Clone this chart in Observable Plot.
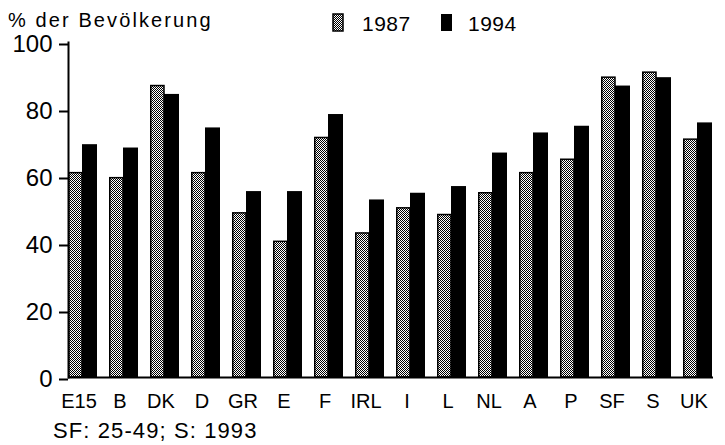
<!DOCTYPE html>
<html>
<head>
<meta charset="utf-8">
<script src="https://cdn.jsdelivr.net/npm/d3@7"></script>
<script src="https://cdn.jsdelivr.net/npm/@observablehq/plot@0.6"></script>
<style>
  html, body { margin: 0; padding: 0; background: #fff; }
  #wrap { position: relative; width: 725px; height: 445px; font-family: "Liberation Sans", Arial, Helvetica, sans-serif; color: #000; }
  .t { position: absolute; white-space: nowrap; }
  #chart { position: absolute; left: 0; top: 0; }
</style>
</head>
<body>
<div id="wrap">
  <div id="chart"></div>
  <div class="t" style="left:8px; top:10px; font-size:20px; line-height:20px; letter-spacing:2.1px;">% der Bevölkerung</div>
  <svg class="t" style="left:332px; top:13px;" width="14" height="20">
    <defs>
      <pattern id="stipL" width="2" height="2" patternUnits="userSpaceOnUse">
        <rect width="2" height="2" fill="#fff"/>
        <rect width="1" height="1" fill="#000"/>
        <rect x="1" y="1" width="1" height="1" fill="#000"/>
      </pattern>
    </defs>
    <rect x="1" y="1" width="10" height="17" fill="url(#stipL)" stroke="#000" stroke-width="1.5"/>
  </svg>
  <div class="t" id="leg1" style="left:362px; top:13px; font-size:21px; line-height:21px; letter-spacing:0.5px;"></div>
  <svg class="t" style="left:440px; top:13px;" width="14" height="20">
    <rect x="1" y="1" width="11" height="17" fill="#000"/>
  </svg>
  <div class="t" id="leg2" style="left:468px; top:13px; font-size:21px; line-height:21px; letter-spacing:0.5px;"></div>
  <div class="t" id="cap" style="left:53px; top:420px; font-size:22px; line-height:22px; letter-spacing:1.1px;"></div>
</div>
<script>
const countries = ["E15","B","DK","D","GR","E","F","IRL","I","L","NL","A","P","SF","S","UK"];
const years = ["1987","1994"];
const v1987 = [61, 59.5, 87, 61, 49, 40.5, 71.5, 43, 50.5, 48.5, 55, 61, 65, 89.5, 91, 71];
const v1994 = [69.5, 68.5, 84.5, 74.5, 55.5, 55.5, 78.5, 53, 55, 57, 67, 73, 75, 87, 89.5, 76];
const yTicks = [0, 20, 40, 60, 80, 100];
const caption = "SF: 25-49; S: 1993";

document.getElementById("leg1").textContent = years[0];
document.getElementById("leg2").textContent = years[1];
document.getElementById("cap").textContent = caption;

const d87 = countries.map((c, i) => ({country: c, year: years[0], value: v1987[i]}));
const d94 = countries.map((c, i) => ({country: c, year: years[1], value: v1994[i]}));

const chart = Plot.plot({
  width: 725,
  height: 445,
  marginTop: 42,
  marginBottom: 68,
  marginLeft: 68,
  marginRight: 12,
  style: {fontFamily: '"Liberation Sans", Arial, Helvetica, sans-serif', color: "#000", background: "transparent"},
  x: {domain: countries, paddingInner: 0.29, paddingOuter: 0, align: 0.5},
  y: {domain: [0, 100]},
  marks: [
    Plot.barY(d87, {x: "country", y: "value", fill: "url(#stip)", stroke: "#000", strokeWidth: 1.5, insetRight: 15, insetLeft: 0.75}),
    Plot.barY(d94, {x: "country", y: "value", fill: "#000", insetLeft: 14}),
    Plot.ruleY([0], {stroke: "#000", strokeWidth: 2}),
    Plot.frame({anchor: "left", stroke: "#000", strokeWidth: 2}),
    Plot.axisY({ticks: yTicks, tickSize: 9, tickPadding: 7, fontSize: 24, label: null, stroke: "#000", strokeWidth: 2, dy: 2, tickFormat: d => String(d)}),
    Plot.axisX({tickSize: 0, tickPadding: 16, fontSize: 20, dx: -4, label: null})
  ]
});

const ns = "http://www.w3.org/2000/svg";
const defs = document.createElementNS(ns, "defs");
defs.innerHTML = '<pattern id="stip" width="2" height="2" patternUnits="userSpaceOnUse">' +
  '<rect width="2" height="2" fill="#fff"/>' +
  '<rect width="1" height="1" fill="#000"/>' +
  '<rect x="1" y="1" width="1" height="1" fill="#000"/></pattern>';
chart.insertBefore(defs, chart.firstChild);
document.getElementById("chart").appendChild(chart);
</script>
</body>
</html>
